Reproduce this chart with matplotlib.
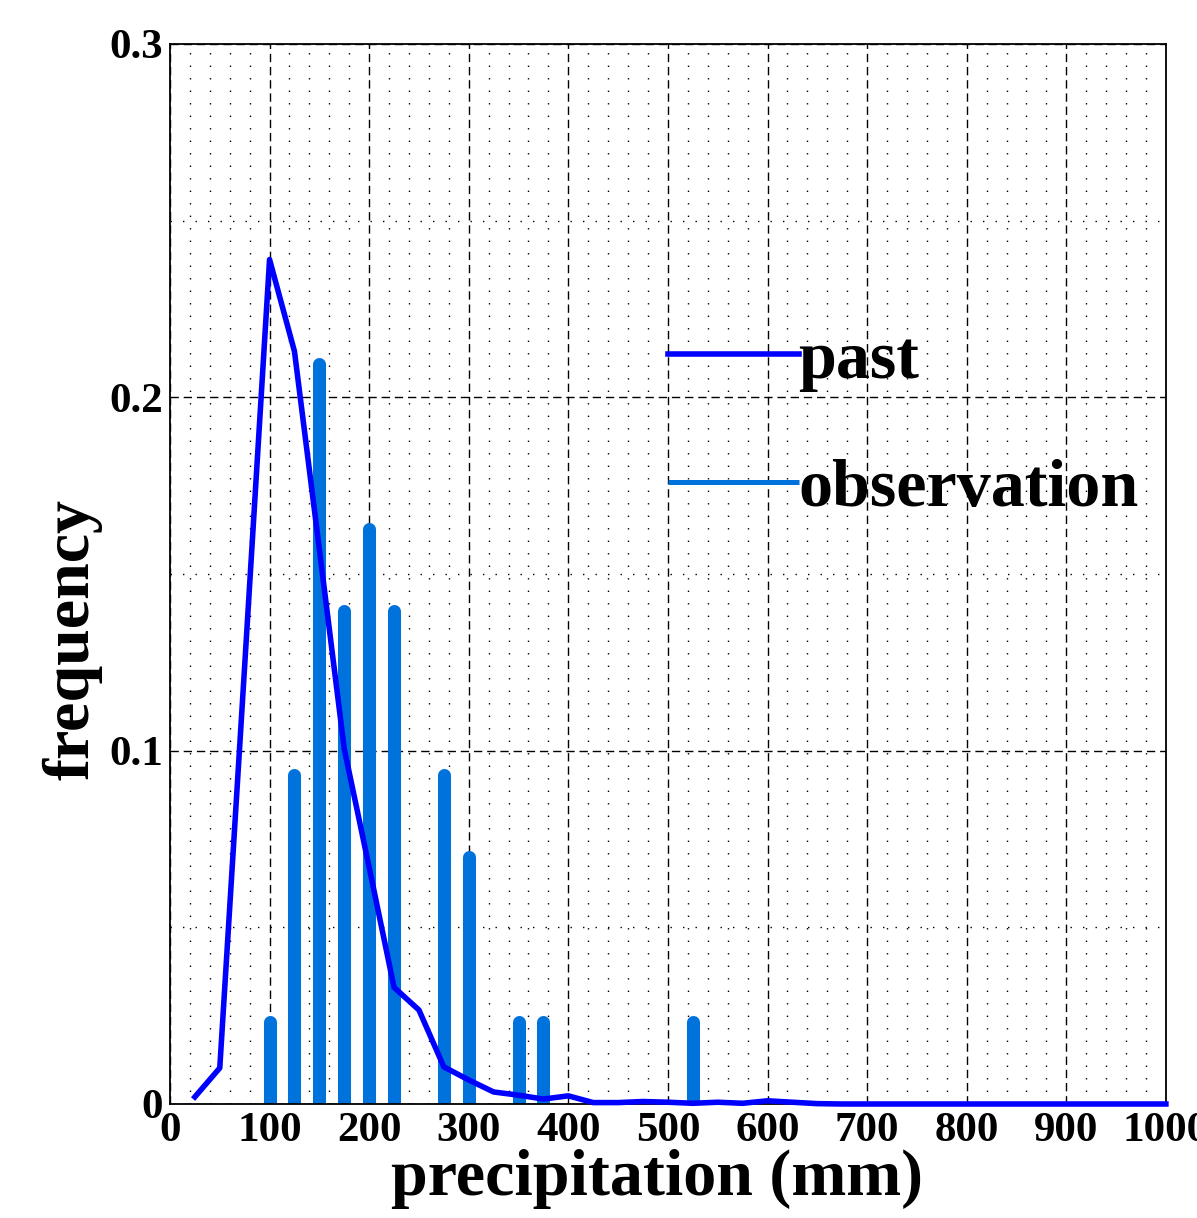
import matplotlib
matplotlib.use('Agg')
import matplotlib.pyplot as plt
from matplotlib.ticker import MultipleLocator

plt.rcParams['font.family'] = ['Liberation Serif', 'DejaVu Serif']
plt.rcParams['font.weight'] = 'bold'

# simulated past frequency curve
past_x = [25, 50, 75, 100, 125, 150, 175, 200, 225, 250, 275, 300, 325, 350, 375, 400,
          425, 450, 475, 500, 525, 550, 575, 600, 625, 650, 675, 700, 725, 750, 775, 800,
          825, 850, 875, 900, 925, 950, 975, 1000]
past_freq = [0.002, 0.0102, 0.124, 0.239, 0.213, 0.157, 0.1005, 0.067, 0.033, 0.0266,
             0.0105, 0.0068, 0.0034, 0.0025, 0.0014, 0.0023, 0.0004, 0.0004, 0.0007, 0.0005,
             0.0002, 0.0005, 0.0002, 0.0009, 0.0005, 0.0001, 0.0, 0.0, 0.0, 0.0,
             0.0, 0.0, 0.0, 0.0, 0.0, 0.0, 0.0, 0.0, 0.0, 0.0]

# observed frequency
obs_x = [100, 125, 150, 175, 200, 225, 275, 300, 350, 375, 525]
obs_freq = [0.0233, 0.093, 0.2093, 0.1395, 0.1628, 0.1395, 0.093, 0.0698, 0.0233, 0.0233, 0.0233]

fig = plt.figure(figsize=(11.97, 12.18), dpi=100)
ax = fig.add_axes([0.142, 0.0936, 0.832, 0.8703])

obs = ax.vlines(obs_x, 0, obs_freq, colors='#0072DC', linewidth=9.4,
                capstyle='round', label='observation', zorder=2)
ax.plot(past_x, past_freq, color='#0000FF', linewidth=4, label='past',
        zorder=4, clip_on=False)

ax.set_xlim(0, 1000)
ax.set_ylim(0, 0.3)
ax.xaxis.set_major_locator(MultipleLocator(100))
ax.xaxis.set_minor_locator(MultipleLocator(20))
ax.yaxis.set_major_locator(MultipleLocator(0.1))
ax.yaxis.set_minor_locator(MultipleLocator(0.05))
ax.set_yticks([0, 0.1, 0.2, 0.3])
ax.set_yticklabels(['0', '0.1', '0.2', '0.3'])

ax.set_axisbelow(True)
ax.grid(True, which='major', color='black', linestyle=(0, (6, 3.5)), linewidth=1.0)
ax.grid(True, which='minor', color='black', linestyle=(0, (1, 8)), linewidth=1.0)

ax.tick_params(which='both', length=0, labelsize=31)
ax.tick_params(axis='x', pad=6)
ax.tick_params(axis='y', pad=5)
for lab in ax.get_xticklabels() + ax.get_yticklabels():
    lab.set_fontweight('bold')
for s in ax.spines.values():
    s.set_linewidth(1.3)
    s.set_zorder(3)

ax.set_xlabel('precipitation (mm)', fontsize=47.5, fontweight='bold')
ax.set_ylabel('frequency', fontsize=47.5, fontweight='bold')
ax.xaxis.set_label_coords(0.489, -0.042)
ax.yaxis.set_label_coords(-0.068, 0.438)

leg = ax.legend(handles=[ax.lines[0], obs], loc='upper left', bbox_to_anchor=(0.5, 0.73),
                frameon=False, handlelength=1.92, handletextpad=0.0,
                borderpad=0, borderaxespad=0, labelspacing=0.98,
                prop={'weight': 'bold', 'size': 49})
leg.legend_handles[1].set_linewidth(3.6)

plt.savefig('out.png', dpi=100)
